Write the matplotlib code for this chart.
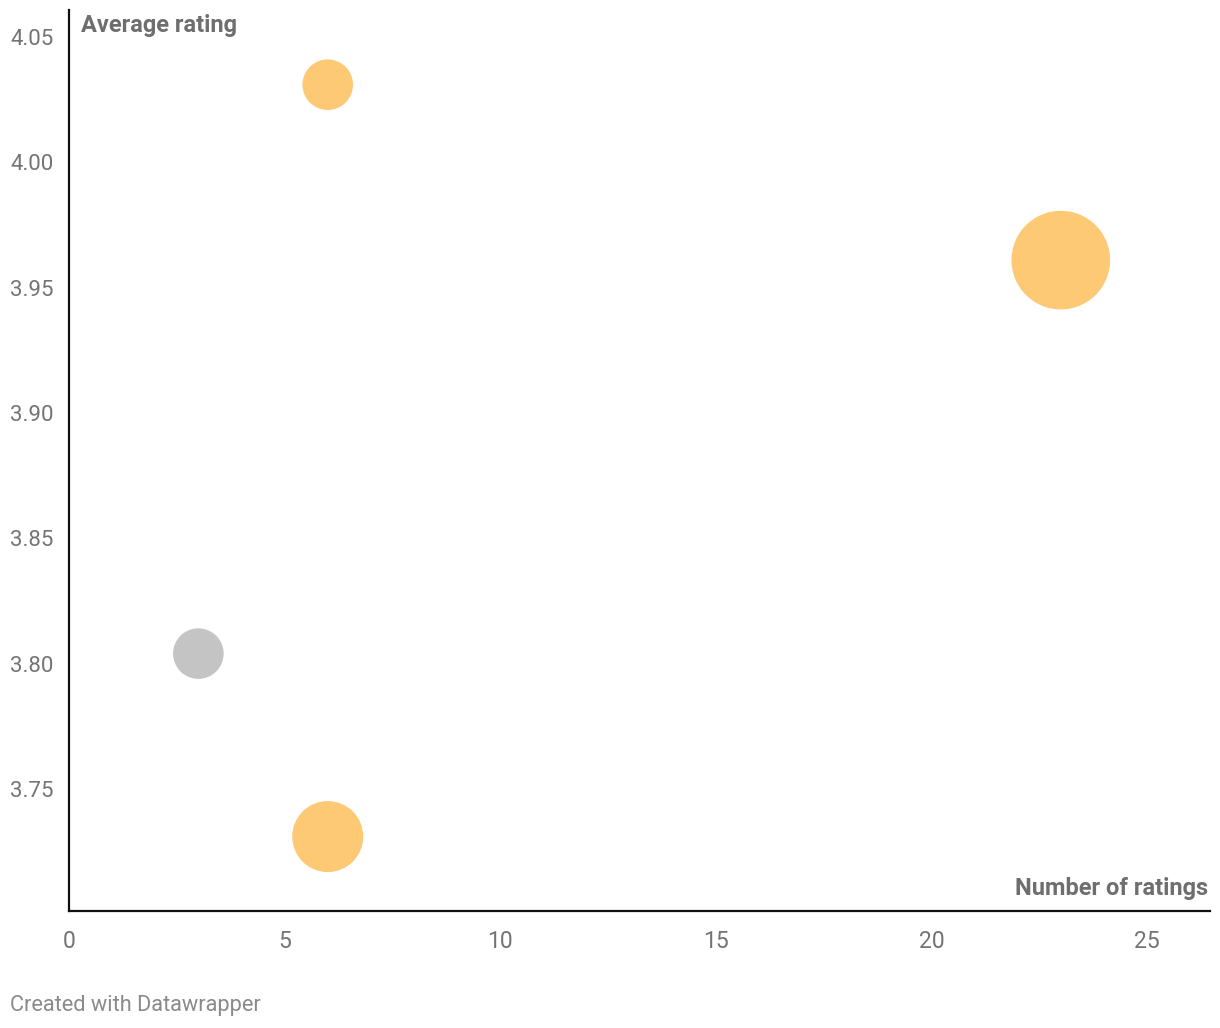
import numpy as np
import matplotlib.pyplot as plt

plt.rcParams['font.family'] = ['Roboto', 'DejaVu Sans']

# data
num_ratings = [6, 23, 3, 6]
avg_rating = [4.031, 3.961, 3.804, 3.731]
bubble_size = [1, 3.8, 1, 1.97]
colors = ['#fdc975', '#fdc975', '#c4c4c4', '#fdc975']

x_ticks = [0, 5, 10, 15, 20, 25]
y_ticks = [3.75, 3.80, 3.85, 3.90, 3.95, 4.00, 4.05]

fig = plt.figure(figsize=(12.2, 10.28), dpi=100)
ax = fig.add_axes([69 / 1220, 1 - 911 / 1028, (1210 - 69) / 1220, (911 - 10) / 1028])

# radius in px -> marker area in pt^2
r_px = 25.3 * np.sqrt(bubble_size)
s = (2 * r_px * 0.72) ** 2
ax.scatter(num_ratings, avg_rating, s=s, c=colors, linewidths=0, zorder=3)

ax.set_xlim(0, 26.46)
ax.set_ylim(3.7013, 4.0608)
ax.set_xticks(x_ticks)
ax.set_yticks(y_ticks)
ax.set_yticklabels([f'{v:.2f}' for v in y_ticks])

for side in ['top', 'right']:
    ax.spines[side].set_visible(False)
for side in ['left', 'bottom']:
    ax.spines[side].set_linewidth(1.6)
    ax.spines[side].set_color('#111111')

ax.tick_params(length=0, labelsize=16.5, colors='#747474')
ax.tick_params(axis='y', pad=11, labelsize=16)
ax.tick_params(axis='x', pad=14)

ax.text(12 / 1141, 0.983, 'Average rating', transform=ax.transAxes,
        fontsize=17, fontweight='bold', color='#6e6e6e', va='center', ha='left')
ax.text(0.998, 23 / 901, 'Number of ratings', transform=ax.transAxes,
        fontsize=17, fontweight='bold', color='#6e6e6e', va='center', ha='right')

fig.text(10 / 1220, 1 - 1006 / 1028, 'Created with Datawrapper', fontsize=15.7,
         color='#8a8a8a', va='center', ha='left')

fig.savefig('out.png', dpi=100)
